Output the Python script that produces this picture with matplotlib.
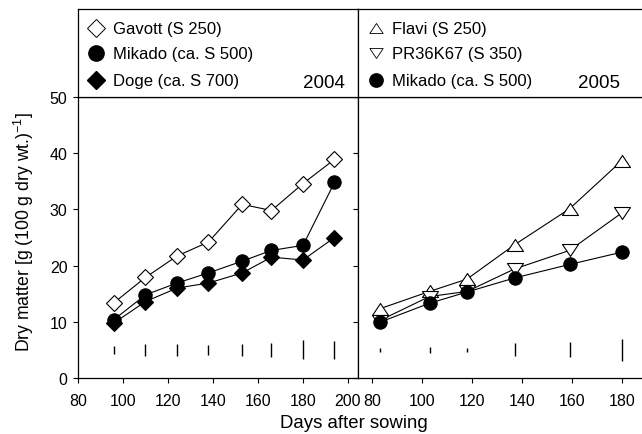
import numpy as np
import matplotlib
matplotlib.use("Agg")
from matplotlib import pyplot as plt

plt.rcParams['font.family'] = ['Liberation Sans', 'DejaVu Sans']
plt.rcParams['mathtext.fontset'] = 'custom'
plt.rcParams['mathtext.rm'] = 'Liberation Sans'
plt.rcParams['axes.linewidth'] = 0.9

# 2004 season
days_2004 = [96, 110, 124, 138, 153, 166, 180, 194]
gavott_2004 = [13.4, 17.9, 21.7, 24.2, 30.9, 29.8, 34.6, 38.9]
mikado_2004 = [10.4, 14.8, 16.9, 18.7, 20.8, 22.7, 23.6, 34.8]
doge_2004 = [9.8, 13.6, 16.0, 16.9, 18.7, 21.5, 21.0, 25.0]
lsd_2004 = [1.4, 2.0, 2.0, 1.8, 2.2, 2.6, 3.4, 3.1]

# 2005 season
days_2005 = [83, 103, 118, 137, 159, 180]
flavi_2005 = [12.3, 15.4, 17.6, 23.7, 30.1, 38.7]
pr36k67_2005 = [10.2, 14.5, 15.4, 19.4, 22.7, 29.4]
mikado_2005 = [9.9, 13.3, 15.3, 17.8, 20.2, 22.4]
lsd_2005 = [0.7, 1.1, 0.8, 2.3, 2.7, 3.9]
lsd_level = 5

labels_2004 = ["Gavott (S 250)", "Mikado (ca. S 500)", "Doge (ca. S 700)"]
labels_2005 = ["Flavi (S 250)", "PR36K67 (S 350)", "Mikado (ca. S 500)"]

# slightly flat triangles like the original
tri_up = [(-1, -0.75), (1, -0.75), (0, 0.75), (-1, -0.75)]
tri_down = [(-1, 0.75), (1, 0.75), (0, -0.75), (-1, 0.75)]

W, H = 642, 435
fig = plt.figure(figsize=(W / 100, H / 100), dpi=100)

def box(x0, y0, w, h):
    return [x0 / W, 1 - (y0 + h) / H, w / W, h / H]

ax1 = fig.add_axes(box(78, 98, 280, 281))
ax2 = fig.add_axes(box(358, 98, 292, 281))
leg1 = fig.add_axes(box(78, 10, 280, 88))
leg2 = fig.add_axes(box(358, 10, 292, 88))

line_kw = dict(color='k', lw=0.8, mec='k', mew=0.8)

# 2004
ax1.plot(days_2004, gavott_2004, marker='D', ms=7.8, mfc='white', **line_kw)
ax1.plot(days_2004, mikado_2004, marker='o', ms=9.6, mfc='k', **line_kw)
ax1.plot(days_2004, doge_2004, marker='D', ms=7.8, mfc='k', **line_kw)
ax1.vlines(days_2004, lsd_level - np.array(lsd_2004) / 2,
           lsd_level + np.array(lsd_2004) / 2, color='k', lw=1.0)
ax1.set_xlim(80, 80 + 280 / 2.25)
ax1.set_xticks(range(80, 201, 20))

# 2005
ax2.plot(days_2005, flavi_2005, marker=tri_up, ms=11.5, mfc='white', **line_kw)
ax2.plot(days_2005, pr36k67_2005, marker=tri_down, ms=11.5, mfc='white', **line_kw)
ax2.plot(days_2005, mikado_2005, marker='o', ms=9.6, mfc='k', **line_kw)
ax2.vlines(days_2005, lsd_level - np.array(lsd_2005) / 2,
           lsd_level + np.array(lsd_2005) / 2, color='k', lw=1.0)
ax2.set_xlim(80 - 14 / 2.5, 80 + 278 / 2.5)
ax2.set_xticks(range(80, 181, 20))

for ax in (ax1, ax2):
    ax.set_ylim(0, 50)
    ax.set_yticks(range(0, 51, 10))
    ax.tick_params(direction='out', length=3.5, width=0.8, labelsize=11.5)
    ax.tick_params(axis='x', pad=7)
    ax.tick_params(axis='y', pad=4)
ax2.tick_params(axis='y', labelleft=False)

# legend boxes
for lg in (leg1, leg2):
    lg.set_xlim(0, 1)
    lg.set_ylim(0, 1)
    lg.set_xticks([])
    lg.set_yticks([])

rows = [0.784, 0.5, 0.19]
leg1.plot(0.064, rows[0], marker='D', ms=9, mfc='white', mec='k', mew=0.7)
leg1.plot(0.064, rows[1], marker='o', ms=11, mfc='k', mec='k')
leg1.plot(0.064, rows[2], marker='D', ms=9, mfc='k', mec='k')
for r, t in zip(rows, labels_2004):
    leg1.text(0.125, r, t, fontsize=12, va='center', ha='left')
leg1.text(0.954, 0.16, "2004", fontsize=13.5, va='center', ha='right')

leg2.plot(0.06, rows[0], marker=tri_up, ms=9.6, mfc='white', mec='k', mew=0.6)
leg2.plot(0.06, rows[1], marker=tri_down, ms=9.6, mfc='white', mec='k', mew=0.6)
leg2.plot(0.06, rows[2], marker='o', ms=9.6, mfc='k', mec='k')
for r, t in zip(rows, labels_2005):
    leg2.text(0.115, r, t, fontsize=12, va='center', ha='left')
leg2.text(0.897, 0.16, "2005", fontsize=13.5, va='center', ha='right')

fig.text(354 / W, 1 - 424 / H, "Days after sowing", fontsize=13.4,
         ha='center', va='center')
fig.text(24 / W, 1 - 232 / H, r"Dry matter [g (100 g dry wt.)$^{-1}$]",
         fontsize=12.7, rotation=90, ha='center', va='center')

fig.savefig("out.png", dpi=100)
